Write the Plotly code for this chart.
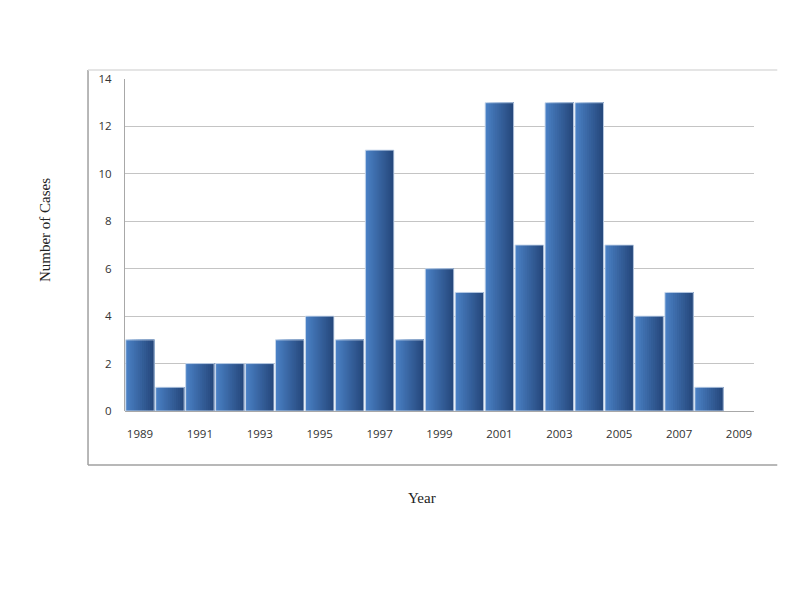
import plotly.graph_objects as go

years = [1989, 1990, 1991, 1992, 1993, 1994, 1995, 1996, 1997, 1998, 1999,
         2000, 2001, 2002, 2003, 2004, 2005, 2006, 2007, 2008, 2009]
cases = [3, 1, 2, 2, 2, 3, 4, 3, 11, 3, 6, 5, 13, 7, 13, 13, 7, 4, 5, 1, 0]
x_tick_years = [1989, 1991, 1993, 1995, 1997, 1999, 2001, 2003, 2005, 2007, 2009]
y_ticks = [0, 2, 4, 6, 8, 10, 12, 14]

# gradient strip colours (left -> right across each bar)
left_rgb = (74, 128, 196)
right_rgb = (38, 72, 124)
n_strips = 14

fig = go.Figure()
bar_w = 0.95
strip_w = bar_w / n_strips
for k in range(n_strips):
    t = k / (n_strips - 1)
    r = int(left_rgb[0] + (right_rgb[0] - left_rgb[0]) * t)
    g = int(left_rgb[1] + (right_rgb[1] - left_rgb[1]) * t)
    b = int(left_rgb[2] + (right_rgb[2] - left_rgb[2]) * t)
    fig.add_trace(go.Bar(
        x=years, y=cases,
        width=bar_w - k * strip_w,
        offset=-bar_w / 2 + k * strip_w,
        marker=dict(color=f"rgb({r},{g},{b})", line=dict(width=0)),
        showlegend=False, hoverinfo="skip",
    ))
# thin light edge
fig.add_trace(go.Bar(
    x=years, y=[c if c > 0 else None for c in cases], width=bar_w, offset=-bar_w / 2,
    marker=dict(color="rgba(0,0,0,0)", line=dict(color="rgba(200,215,235,0.9)", width=1)),
    showlegend=False, hoverinfo="skip",
))

tick_font = dict(family="Open Sans, Calibri, sans-serif", size=11.5, color="#333333")

fig.update_layout(
    width=800, height=600,
    barmode="overlay",
    paper_bgcolor="white", plot_bgcolor="white",
    margin=dict(l=117, r=54, t=71, b=197),
    xaxis=dict(
        range=[1988.5, 2009.5],
        tickmode="array", tickvals=x_tick_years,
        ticktext=[str(y) for y in x_tick_years],
        showgrid=False, showline=False, zeroline=False,
        ticks="", ticklabelstandoff=14,
        tickfont=tick_font,
    ),
    yaxis=dict(
        range=[0, 14],
        tickmode="array", tickvals=y_ticks,
        showgrid=True, gridcolor="#c4c4c4", gridwidth=1,
        showline=True, linecolor="#a8a8a8", linewidth=1,
        zeroline=True, zerolinecolor="#a8a8a8", zerolinewidth=1,
        ticks="", ticklabelstandoff=10,
        tickfont=tick_font,
    ),
    shapes=[
        dict(type="line", xref="paper", yref="paper", x0=-0.0588, x1=-0.0588,
             y0=-0.163, y1=1.027, line=dict(color="#a0a0a0", width=1.5)),
        dict(type="line", xref="paper", yref="paper", x0=-0.0588, x1=1.037,
             y0=-0.163, y1=-0.163, line=dict(color="#a0a0a0", width=1.5)),
        dict(type="line", xref="paper", yref="paper", x0=-0.0588, x1=1.037,
             y0=1.027, y1=1.027, line=dict(color="#dcdcdc", width=1.5)),
    ],
    annotations=[
        dict(text="Number of Cases", xref="paper", yref="paper",
             x=-0.143, y=0.545, textangle=-90, showarrow=False,
             font=dict(family="Liberation Serif, Times New Roman, serif", size=15, color="#222")),
        dict(text="Year", xref="paper", yref="paper",
             x=0.472, y=-0.293, showarrow=False,
             font=dict(family="Liberation Serif, Times New Roman, serif", size=15, color="#222")),
    ],
)
fig.write_html("out.html")
